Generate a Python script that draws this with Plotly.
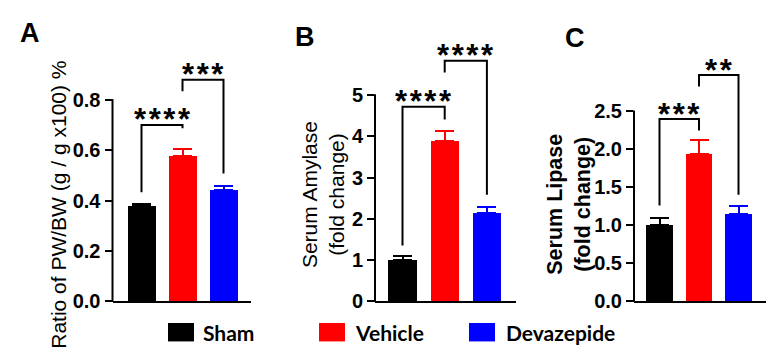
import plotly.graph_objects as go

W, H = 774, 358

# ---------------- data ----------------
groups = ["Sham", "Vehicle", "Devazepide"]
colors = ["#000000", "#ff0000", "#0000ff"]

pw_ratio = [0.378, 0.577, 0.444]
pw_err = [0.010, 0.027, 0.015]
amylase = [0.99, 3.90, 2.15]
amylase_err = [0.10, 0.22, 0.14]
lipase = [1.00, 1.94, 1.15]
lipase_err = [0.10, 0.18, 0.10]

pw_ticks = [0.0, 0.2, 0.4, 0.6, 0.8]
pw_ticklabels = ["0.0", "0.2", "0.4", "0.6", "0.8"]
amylase_ticks = [0, 1, 2, 3, 4, 5]
amylase_ticklabels = ["0", "1", "2", "3", "4", "5"]
lipase_ticks = [0.0, 0.5, 1.0, 1.5, 2.0, 2.5]
lipase_ticklabels = ["0.0", "0.5", "1.0", "1.5", "2.0", "2.5"]

# significance brackets: (from, to, bracket top, left leg end, right leg end, label)
pw_sig = [(0, 1, 0.701, 0.433, 0.688, "****"), (1, 2, 0.881, 0.835, 0.508, "***")]
amylase_sig = [(0, 1, 4.72, 1.35, 4.41, "****"), (1, 2, 5.84, 5.55, 2.58, "****")]
lipase_sig = [(0, 1, 2.40, 1.26, 2.25, "***"), (1, 2, 2.98, 2.83, 1.40, "**")]

pw_title = "Ratio of PW/BW (g / g x100) %"
amylase_title = "Serum Amylase<br>(fold change)"
lipase_title = "<b>Serum Lipase<br>(fold change)</b>"
panel_letters = ["A", "B", "C"]

# ---------------- layout geometry (pixels) ----------------
Y0PX = 302.3
panels = [
    dict(vals=pw_ratio, errs=pw_err, ticks=pw_ticks, labels=pw_ticklabels, sig=pw_sig,
         title=pw_title, title_size=21, L=104.5, R=243, c0=133.5, d=41.0, bw=0.66, ytop_px=95.0,
         title_x=51, title_y=203, letter_x=10, letter_y=25.5),
    dict(vals=amylase, errs=amylase_err, ticks=amylase_ticks, labels=amylase_ticklabels, sig=amylase_sig,
         title=amylase_title, title_size=21, L=367, R=508, c0=394.5, d=42.2, bw=0.67, ytop_px=90.0,
         title_x=315, title_y=193, letter_x=285, letter_y=29.7),
    dict(vals=lipase, errs=lipase_err, ticks=lipase_ticks, labels=lipase_ticklabels, sig=lipase_sig,
         title=lipase_title, title_size=21.5, L=626, R=758, c0=651.5, d=39.5, bw=0.68, ytop_px=106.7,
         title_x=561, title_y=203, letter_x=555, letter_y=31.3),
]

FAMILY = "Liberation Sans, Arial, sans-serif"
TICK_FONT = dict(family=FAMILY, size=20, color="black", weight="bold")
STAR_FONT = dict(family=FAMILY, size=31, color="black", weight="bold")

fig = go.Figure()
shapes = []
annotations = []
layout_axes = {}

for k, p in enumerate(panels):
    sfx = "" if k == 0 else str(k + 1)
    xa, ya = "x" + sfx, "y" + sfx
    top_tick = p["ticks"][-1]
    ppu = (Y0PX - p["ytop_px"]) / top_tick
    rtop = Y0PX / ppu
    xr = [(p["L"] - p["c0"]) / p["d"], (p["R"] - p["c0"]) / p["d"]]
    ybot = (H - Y0PX) / H

    for i, g in enumerate(groups):
        fig.add_trace(go.Bar(
            x=[i], y=[p["vals"][i]], width=p["bw"], name=g,
            marker=dict(color=colors[i], line=dict(width=0)),
            error_y=dict(type="data", array=[p["errs"][i]], arrayminus=[0], symmetric=False,
                         color=colors[i], thickness=2, width=9.5),
            showlegend=False, xaxis=xa, yaxis=ya, hoverinfo="skip",
        ))

    layout_axes["xaxis" + sfx] = dict(
        domain=[p["L"] / W, p["R"] / W], range=xr, anchor=ya,
        showline=True, linecolor="black", linewidth=2, showgrid=False, zeroline=False,
        showticklabels=False, ticks="", fixedrange=True,
    )
    layout_axes["yaxis" + sfx] = dict(
        domain=[ybot, 1.0], range=[0, rtop], anchor=xa,
        showline=False, showgrid=False, zeroline=False,
        tickmode="array", tickvals=p["ticks"], ticktext=p["labels"],
        ticks="outside", ticklen=7, tickwidth=2, tickcolor="black",
        tickfont=TICK_FONT, fixedrange=True,
    )

    # y axis line (only up to top tick)
    shapes.append(dict(type="line", xref="paper", yref="paper",
                       x0=p["L"] / W, x1=p["L"] / W,
                       y0=(H - Y0PX - 1) / H, y1=(H - p["ytop_px"] + 1) / H,
                       line=dict(color="black", width=2)))

    # significance brackets
    for (i, j, top, yl, yr, lab) in p["sig"]:
        shapes.append(dict(type="path", xref=xa, yref=ya,
                           path=f"M {i},{yl} L {i},{top} L {j},{top} L {j},{yr}",
                           line=dict(color="black", width=2)))
        annotations.append(dict(x=(i + j) / 2, y=top, xref=xa, yref=ya,
                                text="\u200a".join(lab),
                                showarrow=False, xanchor="center", yanchor="middle",
                                yshift=5, font=STAR_FONT))

    # y title
    annotations.append(dict(x=p["title_x"] / W, y=(H - p["title_y"]) / H, xref="paper", yref="paper",
                            text=p["title"], textangle=-90, showarrow=False,
                            xanchor="center", yanchor="middle",
                            font=dict(family=FAMILY, size=p["title_size"], color="black")))
    # panel letter
    annotations.append(dict(x=p["letter_x"] / W, y=(H - p["letter_y"]) / H, xref="paper", yref="paper",
                            text="<b>" + panel_letters[k] + "</b>", showarrow=False,
                            xanchor="left", yanchor="middle",
                            font=dict(family=FAMILY, size=27, color="black")))

# ---------------- legend (manual) ----------------
legend_sq_x = [160, 311, 461]
legend_txt_x = [193, 345, 496]
for i, g in enumerate(groups):
    shapes.append(dict(type="rect", xref="paper", yref="paper",
                       x0=legend_sq_x[i] / W, x1=(legend_sq_x[i] + 26) / W,
                       y0=(H - 344) / H, y1=(H - 325) / H,
                       fillcolor=colors[i], line=dict(width=0)))
    annotations.append(dict(x=legend_txt_x[i] / W, y=(H - 335) / H, xref="paper", yref="paper",
                            text="<b>" + g + "</b>", showarrow=False, xanchor="left", yanchor="middle",
                            font=dict(family="Lato, Open Sans, sans-serif", size=21, color="black")))

fig.update_layout(
    width=W, height=H, margin=dict(l=0, r=0, t=0, b=0),
    paper_bgcolor="white", plot_bgcolor="white",
    showlegend=False, bargap=0, shapes=shapes, annotations=annotations,
    **layout_axes,
)

fig.write_html("out.html")
